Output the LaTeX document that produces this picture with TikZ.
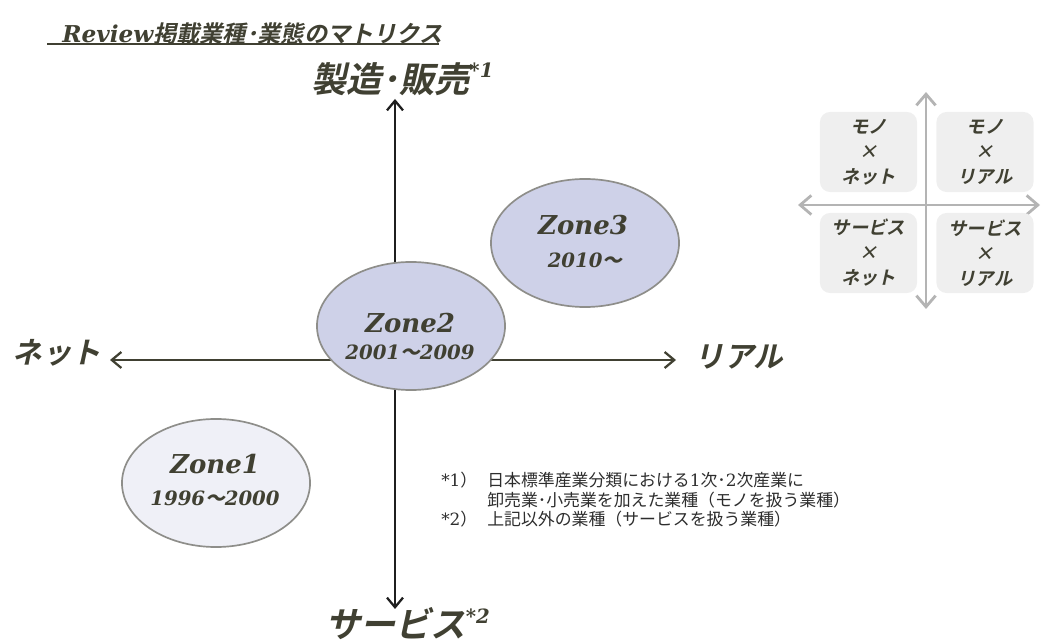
\documentclass[tikz,border=0pt]{standalone}
\usepackage{fontspec}
\usetikzlibrary{arrows.meta,shapes.geometric}
\setmainfont{DejaVu Serif}
\newfontfamily\lat{DejaVu Serif}
\newfontfamily\jpb[FakeSlant=0.22]{Noto Sans CJK JP Bold}
\newfontfamily\jpr{Noto Sans CJK JP}
\definecolor{txt}{RGB}{64,64,50}
\definecolor{fntxt}{RGB}{45,45,45}
\definecolor{zfill}{RGB}{206,209,232}
\definecolor{zfilllight}{RGB}{239,240,247}
\definecolor{zborder}{RGB}{142,142,138}
\definecolor{mgray}{RGB}{180,180,180}
\definecolor{boxfill}{RGB}{239,239,239}
\newcommand\lbi[1]{{\lat\bfseries\itshape #1}}
\newcommand\supx[1]{\raisebox{0.42em}{\lat\bfseries\itshape\fontsize{14}{14}\selectfont #1}}
\tikzset{
  lbl/.style={text=txt, inner sep=0pt},
  axlab/.style={lbl, font=\jpb\fontsize{21}{21}\selectfont},
  biglab/.style={lbl, font=\jpb\fontsize{25}{25}\selectfont},
  zone/.style={ellipse, draw=zborder, line width=1.2pt, minimum width=4.7cm, minimum height=3.2cm, inner sep=0pt},
  zname/.style={lbl, font=\lat\bfseries\itshape\fontsize{18.5}{18.5}\selectfont},
  zyear/.style={lbl, font=\lat\bfseries\itshape\fontsize{14}{14}\selectfont},
  axisv/.style={line width=1.6pt, draw=black!88, -{Straight Barb[length=2.4mm,width=4mm]}},
  axish/.style={line width=1.6pt, draw=txt, -{Straight Barb[length=2.4mm,width=4mm]}},
  maxis/.style={line width=2pt, draw=mgray, {Straight Barb[length=2.8mm,width=4.8mm]}-{Straight Barb[length=2.8mm,width=4.8mm]}},
  mbox/.style={rounded corners=0.25cm, fill=boxfill, minimum width=2.425cm, minimum height=2cm, inner sep=0pt, align=center, text=txt, font=\jpb\fontsize{13}{17.8}\selectfont},
  fn/.style={text=fntxt, inner sep=0pt, anchor=west, font=\jpr\fontsize{12}{12}\selectfont},
}
\begin{document}
\begin{tikzpicture}[x=0.025cm,y=-0.025cm]
\useasboundingbox (0,0) rectangle (1041,642);
% title
\node[lbl, anchor=west, font=\jpb\fontsize{16.5}{16.5}\selectfont] (title) at (62,34) {\lbi{Review}掲載業種･業態のマトリクス};
\coordinate (ul1) at (47,44);
\coordinate (ul2) at (439,44);
\draw[draw=txt, line width=1.1pt] (ul1) -- (ul2);
% axes
\coordinate (o) at (395,360);
\coordinate (vt) at (395,99);
\coordinate (vb) at (395,609);
\coordinate (hl) at (110,360);
\coordinate (hr) at (676,360);
\draw[axisv] (o) -- (vt);
\draw[axisv] (o) -- (vb);
\draw[axish] (o) -- (hl);
\draw[axish] (o) -- (hr);
% axis labels
\node[biglab, anchor=west] (mfg) at (311,79) {製造･販売\supx{*1}};
\node[biglab, anchor=west] (svc) at (325,624) {サービス\supx{*2}};
\node[axlab] (net) at (57,353) {ネット};
\node[axlab] (real) at (739,357) {リアル};
% zones
\node[zone, fill=zfill] (z2) at (411,326) {};
\node[zone, fill=zfill] (z3) at (585,243) {};
\node[zone, fill=zfilllight] (z1) at (216,483) {};
\node[zname] (z2n) at (410,323) {Zone2};
\node[zyear] (z2y) at (410,352) {2001{\jpb ～}2009};
\node[zname] (z3n) at (583,225) {Zone3};
\node[zyear] (z3y) at (585,260) {2010{\jpb ～}};
\node[zname] (z1n) at (215,464) {Zone1};
\node[zyear] (z1y) at (215,498) {1996{\jpb ～}2000};
% footnotes
\node[fn] (f1) at (441,480) {{\lat *1}）};
\node[fn] (f1a) at (487,480) {日本標準産業分類における{\lat 1}次･{\lat 2}次産業に};
\node[fn] (f1b) at (487,500) {卸売業･小売業を加えた業種（モノを扱う業種）};
\node[fn] (f2) at (441,519) {{\lat *2}）};
\node[fn] (f2a) at (487,519) {上記以外の業種（サービスを扱う業種）};
% small matrix
\coordinate (mt) at (926,92);
\coordinate (mb) at (926,309);
\coordinate (ml) at (798,205);
\coordinate (mr) at (1040,205);
\draw[maxis] (mt) -- (mb);
\draw[maxis] (ml) -- (mr);
\node[mbox] (tl) at (868.5,152) {モノ\\×\\ネット};
\node[mbox] (tr) at (985,152) {モノ\\×\\リアル};
\node[mbox] (bl) at (868.5,253) {サービス\\×\\ネット};
\node[mbox] (br) at (985,253) {サービス\\×\\リアル};
\end{tikzpicture}
\end{document}
